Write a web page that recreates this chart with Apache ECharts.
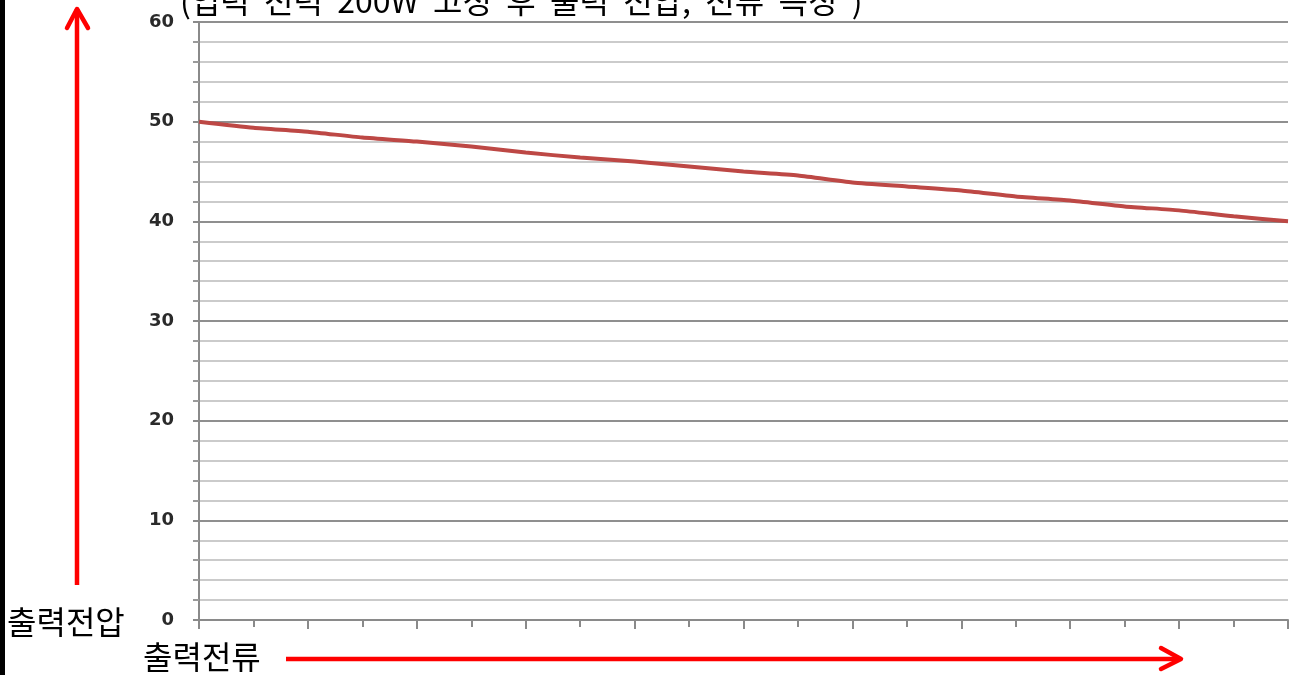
<!DOCTYPE html>
<html>
<head>
<meta charset="utf-8">
<script src="https://cdn.jsdelivr.net/npm/echarts@6/dist/echarts.min.js"></script>
<style>
  html, body { margin: 0; padding: 0; background: #fff; }
  #chart { width: 1298px; height: 675px; }
</style>
</head>
<body>
<div id="chart"></div>
<script>
// output current steps (no labels shown on the original axis)
const currentSteps = [0, 1, 2, 3, 4, 5, 6, 7, 8, 9, 10, 11, 12, 13, 14, 15, 16, 17, 18, 19, 20];
// output voltage
const voltage = [50.0, 49.4, 49.0, 48.4, 48.0, 47.5, 46.9, 46.4, 46.0, 45.5, 45.0,
                 44.6, 43.9, 43.5, 43.1, 42.5, 42.1, 41.5, 41.1, 40.5, 40.0];
const yTicks = [0, 10, 20, 30, 40, 50, 60];

// wide word gaps as in the source screenshot
const titleText = '(입력  전력  200W  고정  후  출력  전압,  전류  측정  )';
const yName = '출력전압';
const xName = '출력전류';

const chart = echarts.init(document.getElementById('chart'), null, { renderer: 'canvas' });

const red = '#ff0000';
const cjk = '"Noto Sans CJK KR", "Noto Sans", sans-serif';

chart.setOption({
  animation: false,
  backgroundColor: '#fff',
  grid: { left: 199, right: 10, top: 22, bottom: 55, containLabel: false },
  xAxis: {
    type: 'value',
    min: currentSteps[0],
    max: currentSteps[currentSteps.length - 1],
    interval: 2,
    axisLine: { lineStyle: { color: '#8a8a8a', width: 2 } },
    axisTick: { show: true, length: 9, lineStyle: { color: '#8a8a8a', width: 2 } },
    minorTick: { show: true, splitNumber: 2, length: 7, lineStyle: { color: '#8a8a8a', width: 2 } },
    axisLabel: { show: false },
    splitLine: { show: false },
    minorSplitLine: { show: false }
  },
  yAxis: {
    type: 'value',
    min: yTicks[0],
    max: yTicks[yTicks.length - 1],
    interval: 10,
    axisLine: { show: true, lineStyle: { color: '#8a8a8a', width: 2 } },
    axisTick: { show: true, length: 6, lineStyle: { color: '#8a8a8a', width: 2 } },
    minorTick: { show: true, splitNumber: 5, length: 6, lineStyle: { color: '#9a9a9a', width: 2 } },
    axisLabel: {
      margin: 25,
      color: '#2a2a2a',
      fontFamily: '"DejaVu Sans", Verdana, sans-serif',
      fontSize: 18,
      fontWeight: 'bold'
    },
    splitLine: { show: true, lineStyle: { color: '#8f8f8f', width: 2 } },
    minorSplitLine: { show: true, lineStyle: { color: '#cbcbcb', width: 2 } }
  },
  series: [{
    type: 'line',
    data: currentSteps.map((x, i) => [x, voltage[i]]),
    smooth: 0.2,
    showSymbol: false,
    lineStyle: { color: '#bd4845', width: 4 },
    z: 5
  }],
  graphic: [
    // black edge on the left
    { type: 'rect', left: 0, top: 0, shape: { width: 5, height: 675 }, style: { fill: '#000' } },
    // title, clipped at the top like the source
    {
      type: 'text', left: 180, top: -15,
      style: { text: titleText, font: '32px ' + cjk, fill: '#000' }
    },
    // y name
    {
      type: 'text', left: 7, top: 606,
      style: { text: yName, font: '32px ' + cjk, fill: '#000' }
    },
    // x name
    {
      type: 'text', left: 143, top: 641,
      style: { text: xName, font: '32px ' + cjk, fill: '#000' }
    },
    // vertical red arrow
    {
      type: 'polyline', shape: { points: [[77, 585], [77, 9]] },
      style: { stroke: red, lineWidth: 4.5, fill: null }
    },
    {
      type: 'polyline', shape: { points: [[67, 28], [77, 9], [88, 28]] },
      style: { stroke: red, lineWidth: 4.5, fill: null, lineJoin: 'round', lineCap: 'round' }
    },
    // horizontal red arrow
    {
      type: 'polyline', shape: { points: [[286, 659], [1180, 659]] },
      style: { stroke: red, lineWidth: 4.5, fill: null }
    },
    {
      type: 'polyline', shape: { points: [[1161, 648], [1181, 659], [1161, 669]] },
      style: { stroke: red, lineWidth: 4.5, fill: null, lineJoin: 'round', lineCap: 'round' }
    }
  ]
});
</script>
</body>
</html>
